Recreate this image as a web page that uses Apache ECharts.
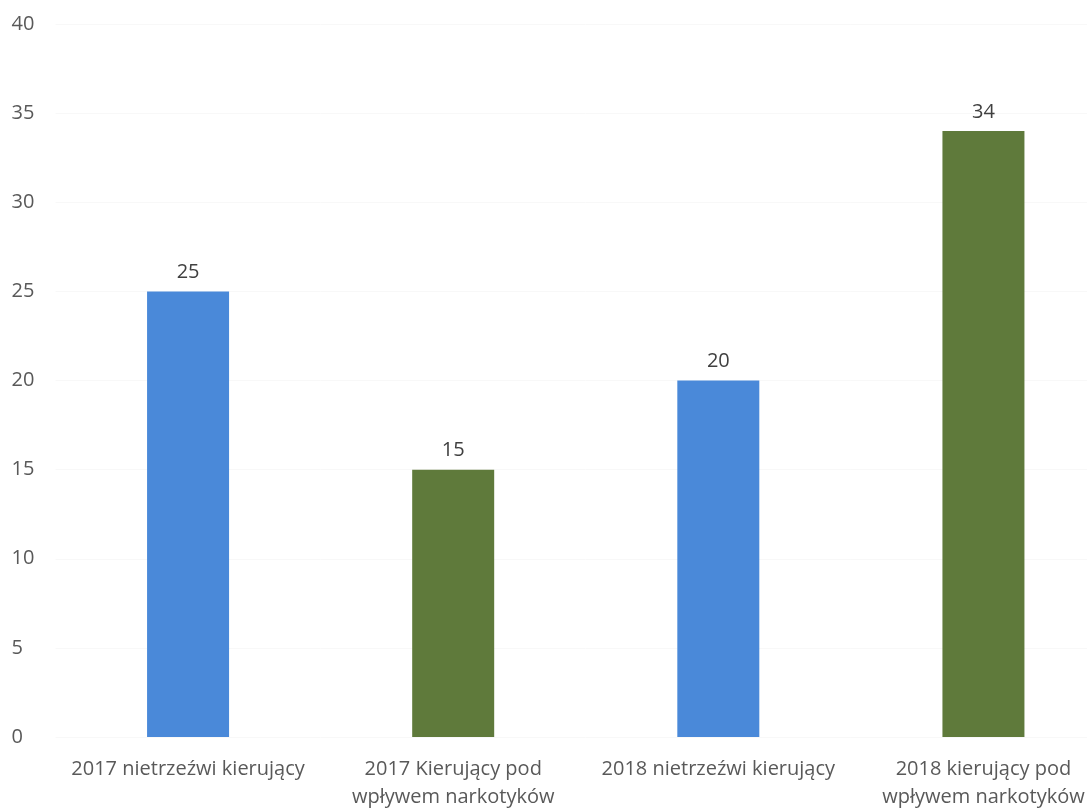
<!DOCTYPE html>
<html>
<head>
<meta charset="utf-8">
<script src="https://cdn.jsdelivr.net/npm/echarts@6/dist/echarts.min.js"></script>
<style>html,body{margin:0;padding:0;background:#fff;overflow:hidden;}#c{width:1116px;height:811px;}</style>
</head>
<body>
<div id="c"></div>
<script>
const categories = [
  "2017 nietrzeźwi kierujący",
  "2017 Kierujący pod\nwpływem narkotyków",
  "2018 nietrzeźwi kierujący",
  "2018 kierujący pod\nwpływem narkotyków"
];
const values = [25, 15, 20, 34];
const barColors = ["#4a89d9", "#5f7a3b", "#4a89d9", "#5f7a3b"];

const chart = echarts.init(document.getElementById('c'), null, {renderer: 'canvas'});
chart.setOption({
  backgroundColor: '#ffffff',
  animation: false,
  textStyle: {fontFamily: '"Open Sans", sans-serif'},
  grid: {left: 55.5, top: 24, right: 0, height: 716, containLabel: false},
  xAxis: {
    type: 'category',
    data: categories,
    axisLine: {show: false},
    axisTick: {show: false},
    axisLabel: {color: '#595959', fontSize: 20, lineHeight: 28, margin: 18, interval: 0}
  },
  yAxis: {
    type: 'value',
    min: 0, max: 40, interval: 5,
    axisLine: {show: false},
    axisTick: {show: false},
    splitLine: {lineStyle: {color: '#f8f8f8', width: 1}},
    axisLabel: {color: '#595959', fontSize: 20, align: 'left', margin: 44}
  },
  series: [{
    type: 'bar',
    data: values.map((v, i) => ({value: v, itemStyle: {color: barColors[i]}})),
    barWidth: 82,
    label: {show: true, position: 'top', distance: 9, color: '#404040', fontSize: 20}
  }]
});
</script>
</body>
</html>
